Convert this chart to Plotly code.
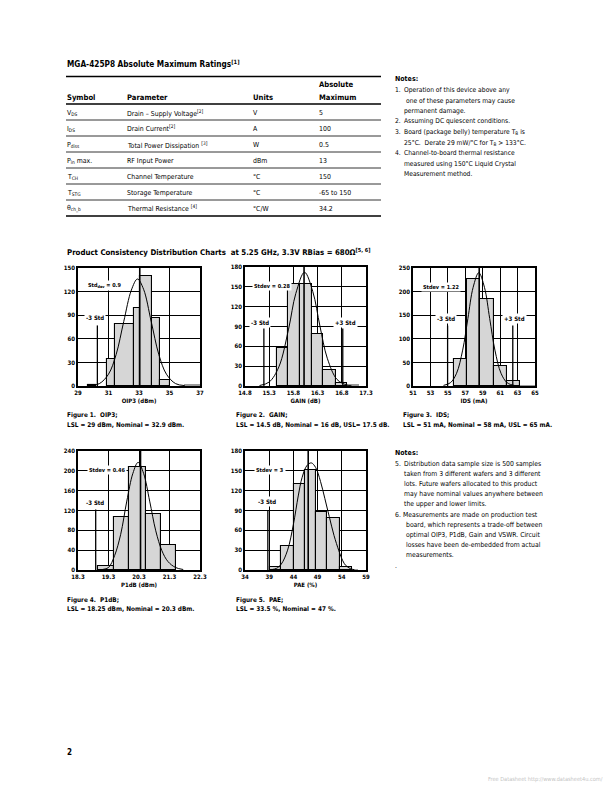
import plotly.graph_objects as go

W, H = 612, 792
FONT = "DejaVu Sans Condensed, Liberation Sans Narrow, Arial Narrow, sans-serif"

# ---------------- data ----------------
# Fig 1 OIP3
oip3_lo = [29.67, 30.87, 31.42, 32.64, 33.04, 33.82, 34.38]
oip3_hi = [30.16, 31.42, 32.64, 33.04, 33.82, 34.38, 35.04]
oip3_n = [1, 34, 79, 99, 140, 86, 8]
oip3_tail_lo, oip3_tail_hi, oip3_tail_n = [35.93], [37.0], [2]
oip3_cx = [29.8, 30.4, 31.0, 31.5, 32.0, 32.5, 32.9, 33.3, 33.8, 34.3, 34.8, 35.4, 36.0]
oip3_cy = [0.5, 3, 15, 40, 82, 122, 136, 123, 82, 40, 15, 3, 0.5]

# Fig 2 GAIN
gain_lo = [15.46, 15.69, 15.94, 16.19, 16.42, 16.68]
gain_hi = [15.69, 15.94, 16.19, 16.42, 16.68, 16.91]
gain_n = [58, 155, 154, 78, 24, 4]
gain_tail_lo, gain_tail_hi, gain_tail_n = [16.91], [17.16], [2]
gain_cx = [15.1, 15.3, 15.5, 15.7, 15.85, 16.03, 16.2, 16.35, 16.5, 16.7, 16.9, 17.0]
gain_cy = [0.7, 6, 29, 86, 140, 172, 143, 90, 42, 10, 1.4, 0.3]

# Fig 3 IDS
ids_lo = [55.66, 57.18, 58.71, 60.24, 61.76]
ids_hi = [57.18, 58.71, 60.24, 61.76, 63.29]
ids_n = [57, 226, 184, 43, 10]
ids_tail_lo, ids_tail_hi, ids_tail_n = [63.29], [65.0], [2]
ids_cx = [54.5, 55.3, 56.0, 56.7, 57.3, 57.9, 58.55, 59.2, 59.8, 60.4, 61.1, 61.8, 62.6, 63.2]
ids_cy = [1.3, 7, 27, 76, 143, 209, 240, 209, 143, 76, 27, 7, 1.3, 0.3]

# Fig 4 P1dB
p1_lo = [18.97, 19.47, 19.97, 20.52, 21.02]
p1_hi = [19.47, 19.97, 20.52, 21.02, 21.5]
p1_n = [9, 107, 207, 113, 50]
p1_cx = [19.1, 19.3, 19.5, 19.7, 19.9, 20.1, 20.27, 20.45, 20.65, 20.85, 21.05, 21.25, 21.5, 21.75]
p1_cy = [1, 5, 29, 72, 139, 195, 217, 195, 139, 79, 39, 17, 5, 1]

# Fig 5 PAE
pae_lo = [39.2, 41.5, 44.07, 46.36, 48.72, 51.01, 53.58]
pae_hi = [41.5, 44.07, 46.36, 48.72, 51.01, 53.58, 56.08]
pae_n = [5, 37, 130, 152, 88, 79, 5]
pae_tail_lo, pae_tail_hi, pae_tail_n = [56.08], [57.3], [1]
pae_cx = [39.5, 40.5, 41.5, 42.8, 44.0, 45.0, 45.8, 46.8, 47.7, 48.6, 49.6, 50.5, 51.4, 52.4, 53.4, 54.2, 54.8, 55.8, 56.6]
pae_cy = [0.5, 2.5, 9, 30, 69, 112, 140, 158, 162, 155, 134, 108, 81, 52, 29, 14, 7, 2, 0.5]

# table
tbl_symbols = ["V<sub>DS</sub>", "I<sub>DS</sub>", "P<sub>diss</sub>", "P<sub>in</sub> max.",
               "T<sub>CH</sub>", "T<sub>STG</sub>", "θ<sub>ch_b</sub>"]
tbl_params = ["Drain – Supply Voltage<sup>[2]</sup>", "Drain Current<sup>[2]</sup>",
              "Total Power Dissipation <sup>[3]</sup>", "RF Input Power", "Channel Temperature",
              "Storage Temperature", "Thermal Resistance <sup>[4]</sup>"]
tbl_units = ["V", "A", "W", "dBm", "°C", "°C", "°C/W"]
tbl_max = ["5", "100", "0.5", "13", "150", "-65 to 150", "34.2"]


def PX(x):
    return x / W


def PY(y):
    return 1 - y / H


fig = go.Figure()

charts = [
    dict(k="", frame=(78, 200, 268, 386), xr=[29, 37], xt=[29, 31, 33, 35, 37], yr=[0, 150], yd=30,
         title="OIP3 (dBm)",
         lo=oip3_lo, hi=oip3_hi, n=oip3_n, tlo=oip3_tail_lo, thi=oip3_tail_hi, tn=oip3_tail_n,
         cx=oip3_cx, cy=oip3_cy, mean=33.05,
         std_lines=[(30.27, 77)], std_labels=[(30.1, 87, "-3 Std")],
         sd_label=(29.55, 128, "Std<sub>dev</sub> = 0.9")),
    dict(k="2", frame=(245, 366, 267, 386), xr=[14.8, 17.3], xt=[14.8, 15.3, 15.8, 16.3, 16.8, 17.3],
         yr=[0, 180], yd=30, title="GAIN (dB)",
         lo=gain_lo, hi=gain_hi, n=gain_n, tlo=gain_tail_lo, thi=gain_tail_hi, tn=gain_tail_n,
         cx=gain_cx, cy=gain_cy, mean=16.02,
         std_lines=[(15.19, 87), (16.82, 87)], std_labels=[(15.12, 96, "-3 Std"), (16.88, 96, "+3 Std")],
         sd_label=(14.94, 151, "Stdev = 0.28")),
    dict(k="3", frame=(413, 535, 268, 386), xr=[51, 65], xt=[51, 53, 55, 57, 59, 61, 63, 65],
         yr=[0, 250], yd=50, title="IDS (mA)",
         lo=ids_lo, hi=ids_hi, n=ids_n, tlo=ids_tail_lo, thi=ids_tail_hi, tn=ids_tail_n,
         cx=ids_cx, cy=ids_cy, mean=58.6,
         std_lines=[(54.97, 128), (62.45, 128)], std_labels=[(54.75, 144, "-3 Std"), (62.7, 144, "+3 Std")],
         sd_label=(51.9, 210, "Stdev = 1.22")),
    dict(k="4", frame=(78, 200, 451, 570), xr=[18.3, 22.3], xt=[18.3, 19.3, 20.3, 21.3, 22.3],
         yr=[0, 240], yd=40, title="P1dB (dBm)",
         lo=p1_lo, hi=p1_hi, n=p1_n, tlo=[], thi=[], tn=[],
         cx=p1_cx, cy=p1_cy, mean=20.35,
         std_lines=[(18.88, 122)], std_labels=[(18.85, 137, "-3 Std")],
         sd_label=(18.6, 202, "Stdev = 0.46")),
    dict(k="5", frame=(245, 366, 451, 570), xr=[34, 59], xt=[34, 39, 44, 49, 54, 59],
         yr=[0, 180], yd=30, title="PAE (%)",
         lo=pae_lo, hi=pae_hi, n=pae_n, tlo=pae_tail_lo, thi=pae_tail_hi, tn=pae_tail_n,
         cx=pae_cx, cy=pae_cy, mean=47.06,
         std_lines=[(38.72, 90)], std_labels=[(38.5, 103, "-3 Std")],
         sd_label=(35.9, 151, "Stdev = 3")),
]

shapes = []
annotations = []
layout_axes = {}

for c in charts:
    k = c["k"]
    xa, ya = "x" + k, "y" + k
    x0, x1, y0, y1 = c["frame"]
    common = dict(showline=True, mirror=True, linecolor="black", linewidth=1.6,
                  showgrid=True, gridcolor="black", gridwidth=1.4, zeroline=False,
                  ticks="", tickfont=dict(family=FONT, size=6, color="black"),
                  fixedrange=True)
    layout_axes["xaxis" + k] = dict(
        domain=[PX(x0), PX(x1)], anchor=ya, range=c["xr"], tickmode="array",
        tickvals=c["xt"], ticktext=["<b>%g</b>" % v for v in c["xt"]],
        title=dict(text="<b>" + c["title"] + "</b>", font=dict(family=FONT, size=6, color="black"), standoff=4),
        automargin=False, **common)
    yt = list(range(c["yr"][0], c["yr"][1] + 1, c["yd"]))
    layout_axes["yaxis" + k] = dict(
        domain=[PY(y1), PY(y0)], anchor=xa, range=c["yr"], tickmode="array",
        tickvals=yt, ticktext=["<b>%d</b>" % v for v in yt], automargin=False, **common)

    cen = [(a + b) / 2 for a, b in zip(c["lo"], c["hi"])]
    wid = [b - a for a, b in zip(c["lo"], c["hi"])]
    fig.add_trace(go.Bar(x=cen, y=c["n"], width=wid, xaxis=xa, yaxis=ya,
                         marker=dict(color="#d6d6d6", line=dict(color="black", width=1.1)),
                         showlegend=False, hoverinfo="skip"))
    if c["tn"]:
        tc = [(a + b) / 2 for a, b in zip(c["tlo"], c["thi"])]
        tw = [b - a for a, b in zip(c["tlo"], c["thi"])]
        fig.add_trace(go.Bar(x=tc, y=c["tn"], width=tw, xaxis=xa, yaxis=ya,
                             marker=dict(color="#9a9a9a", line=dict(color="#9a9a9a", width=0)),
                             showlegend=False, hoverinfo="skip"))
    fig.add_trace(go.Scatter(x=c["cx"], y=c["cy"], mode="lines", xaxis=xa, yaxis=ya,
                             line=dict(color="black", width=1, shape="spline", smoothing=1.0),
                             showlegend=False, hoverinfo="skip"))
    shapes.append(dict(type="line", xref=xa, yref=ya, x0=c["mean"], x1=c["mean"],
                       y0=0, y1=c["yr"][1], line=dict(color="black", width=1.6)))
    for (sx, top) in c["std_lines"]:
        shapes.append(dict(type="line", xref=xa, yref=ya, x0=sx, x1=sx, y0=0, y1=top,
                           line=dict(color="black", width=1.3)))
    for (lx, ly, t) in c["std_labels"]:
        annotations.append(dict(xref=xa, yref=ya, x=lx, y=ly, text="<b>" + t + "</b>", showarrow=False,
                                font=dict(family=FONT, size=6, color="black"), bgcolor="white",
                                borderpad=1, xanchor="center", yanchor="middle"))
    lx, ly, t = c["sd_label"]
    annotations.append(dict(xref=xa, yref=ya, x=lx, y=ly, text="<b>" + t + "</b>", showarrow=False,
                            font=dict(family=FONT, size=5.5, color="black"), bgcolor="white",
                            borderpad=1, xanchor="left", yanchor="middle"))


def txt(x, y, s, size=7, bold=False, color="black", anchor="left"):
    if bold:
        s = "<b>" + s + "</b>"
    annotations.append(dict(xref="paper", yref="paper", x=PX(x), y=PY(y), text=s, showarrow=False,
                            font=dict(family=FONT, size=size, color=color),
                            xanchor=anchor, yanchor="middle", borderpad=0))


# ---------------- table ----------------
txt(66, 64, "MGA-425P8 Absolute Maximum Ratings<sup>[1]</sup>", 8.2, True)
for yy, wdt in [(76.5, 1.6), (104, 1.4)]:
    shapes.append(dict(type="line", xref="paper", yref="paper", x0=PX(66), x1=PX(381),
                       y0=PY(yy), y1=PY(yy), line=dict(color="black", width=wdt)))
txt(66, 97, "Symbol", 7.6, True)
txt(126, 97, "Parameter", 7.6, True)
txt(252, 97, "Units", 7.6, True)
txt(318, 85, "Absolute", 7.6, True)
txt(318, 97, "Maximum", 7.6, True)
for i in range(len(tbl_symbols)):
    ly = 120 + 16 * i
    ty = ly - 7
    txt(66, ty, tbl_symbols[i], 6.9)
    txt(126, ty, tbl_params[i], 6.9)
    txt(252, ty, tbl_units[i], 6.9)
    txt(318, ty, tbl_max[i], 6.9)
    shapes.append(dict(type="line", xref="paper", yref="paper", x0=PX(66), x1=PX(381),
                       y0=PY(ly), y1=PY(ly), line=dict(color="black", width=1.4 if i == 6 else 0.8)))

# ---------------- notes (top) ----------------
txt(394, 79, "Notes:", 7, True)
notes1 = [
    (394, 90, "1."), (403, 90, "Operation of this device above any"),
    (405, 101, "one of these parameters may cause"),
    (403, 111, "permanent damage."),
    (394, 121, "2."), (403, 121, "Assuming DC quiescent conditions."),
    (394, 132, "3."), (403, 132, "Board (package belly) temperature T<sub>B</sub> is"),
    (403, 143, "25°C.  Derate 29 mW/°C for T<sub>B</sub> > 133°C."),
    (394, 153, "4."), (403, 153, "Channel-to-board thermal resistance"),
    (403, 164, "measured using 150°C Liquid Crystal"),
    (403, 174, "Measurement method."),
]
for x, y, s in notes1:
    txt(x, y, s, 6.7)

# ---------------- section title ----------------
txt(66, 252, "Product Consistency Distribution Charts  at 5.25 GHz, 3.3V RBias = 680Ω<sup>[5, 6]</sup>", 7.8, True)

# ---------------- figure captions ----------------
caps = [
    (66, 415, "Figure 1.  OIP3;"), (66, 425, "LSL = 29 dBm, Nominal = 32.9 dBm."),
    (235, 415, "Figure 2.  GAIN;"), (235, 425, "LSL = 14.5 dB, Nominal = 16 dB, USL= 17.5 dB."),
    (402, 415, "Figure 3.  IDS;"), (402, 425, "LSL = 51 mA, Nominal = 58 mA, USL = 65 mA."),
    (66, 600, "Figure 4.  P1dB;"), (66, 609, "LSL = 18.25 dBm, Nominal = 20.3 dBm."),
    (235, 600, "Figure 5.  PAE;"), (235, 609, "LSL = 33.5 %, Nominal = 47 %."),
]
for x, y, s in caps:
    txt(x, y, s, 6.4, True)

# ---------------- notes (bottom) ----------------
txt(394, 453, "Notes:", 7, True)
notes2 = [
    (394, 464, "5."), (403, 464, "Distribution data sample size is 500 samples"),
    (403, 474, "taken from 3 different wafers and 3 different"),
    (403, 484, "lots. Future wafers allocated to this product"),
    (403, 494, "may have nominal values anywhere between"),
    (403, 504, "the upper and lower limits."),
    (394, 515, "6."), (402, 515, "Measurements are made on production test"),
    (405, 525, "board, which represents a trade-off between"),
    (405, 535, "optimal OIP3, P1dB, Gain and VSWR. Circuit"),
    (405, 545, "losses have been de-embedded from actual"),
    (405, 555, "measurements."),
    (394, 566, "."),
]
for x, y, s in notes2:
    txt(x, y, s, 6.8)

txt(66, 752, "2", 8, True)
txt(604, 779, "Free Datasheet http://www.datasheet4u.com/", 5.6, False, "#c4c4c4", anchor="right")

fig.update_layout(
    width=W, height=H, autosize=False,
    margin=dict(l=0, r=0, t=0, b=0),
    paper_bgcolor="white", plot_bgcolor="white",
    barmode="overlay", bargap=0,
    showlegend=False,
    shapes=shapes, annotations=annotations,
    font=dict(family=FONT, color="black"),
    **layout_axes,
)

fig.write_html("out.html", config={"displayModeBar": False})
